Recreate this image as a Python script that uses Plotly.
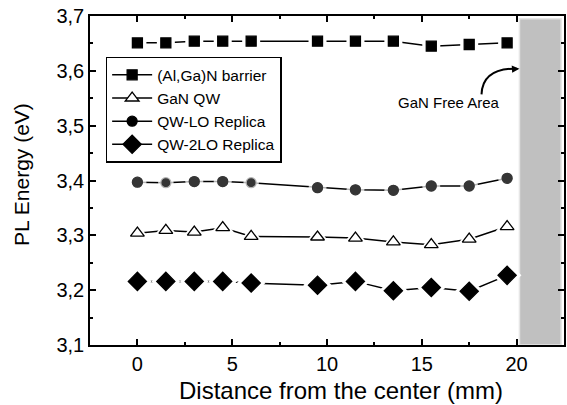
import plotly.graph_objects as go

# ---- data ----
distance_mm = [0, 1.5, 3, 4.5, 6, 9.5, 11.5, 13.5, 15.5, 17.5, 19.5]
algan_barrier = [3.651, 3.651, 3.654, 3.654, 3.654, 3.654, 3.654, 3.654, 3.645, 3.648, 3.651]
gan_qw = [3.304, 3.309, 3.306, 3.314, 3.298, 3.297, 3.295, 3.288, 3.283, 3.293, 3.316]
qw_lo = [3.397, 3.396, 3.398, 3.398, 3.396, 3.387, 3.383, 3.382, 3.390, 3.390, 3.404]
qw_2lo = [3.216, 3.216, 3.216, 3.216, 3.213, 3.209, 3.216, 3.199, 3.205, 3.198, 3.227]

series_names = ["(Al,Ga)N barrier", "GaN QW", "QW-LO Replica", "QW-2LO Replica"]
free_area_x = [20.15, 22.35]
free_area_label = "GaN Free Area"
x_title = "Distance from the center (mm)"
y_title = "PL Energy (eV)"

FONT = "Arial"

fig = go.Figure()

# gray "GaN free" region
fig.add_shape(type="rect", xref="x", yref="y",
              x0=free_area_x[0], x1=free_area_x[1], y0=3.1, y1=3.695,
              fillcolor="#c0c0c0", line=dict(color="#e6e6e6", width=1.5), layer="below")

styles = [
    dict(symbol="square", size=10, color="black", lc="black"),
    dict(symbol="triangle-up", size=12, color="white", lc="black"),
    dict(symbol="circle", size=[10, 7.5, 10, 10, 7.5, 10, 10, 10, 10, 10, 10], color="black", lc="black"),
    dict(symbol="diamond", size=14, color="black", lc="black"),
]
all_y = [algan_barrier, gan_qw, qw_lo, qw_2lo]

for name, ys, st in zip(series_names, all_y, styles):
    sz = st["size"]
    # line + markers (legend entry)
    fig.add_trace(go.Scatter(
        x=distance_mm, y=ys, name=name, mode="lines+markers",
        line=dict(color="black", width=1.5),
        marker=dict(symbol=st["symbol"], size=10 if isinstance(sz, list) else sz,
                    color=st["color"], line=dict(color=st["lc"], width=1.3)),
    ))
    # white mask to create gaps between line and markers
    mask_sz = [s + 8 for s in sz] if isinstance(sz, list) else sz + 8
    fig.add_trace(go.Scatter(
        x=distance_mm, y=ys, mode="markers", showlegend=False, hoverinfo="skip",
        marker=dict(symbol=st["symbol"], size=mask_sz, color="white", line=dict(width=0)),
    ))
    # actual markers
    fig.add_trace(go.Scatter(
        x=distance_mm, y=ys, mode="markers", showlegend=False,
        marker=dict(symbol=st["symbol"], size=sz, color=st["color"],
                    line=dict(color=st["lc"], width=1.3)),
    ))

# curved arrow pointing to the free area
fig.add_shape(type="path", xref="x", yref="y",
              path="M 18.15,3.557 Q 18.2,3.605 20.0,3.604",
              line=dict(color="black", width=2))
fig.add_annotation(x=20.15, y=3.604, ax=19.7, ay=3.603, xref="x", yref="y",
                   axref="x", ayref="y", text="", showarrow=True,
                   arrowhead=2, arrowsize=1, arrowwidth=1.5, arrowcolor="black")
fig.add_annotation(x=16.46, y=3.542, xref="x", yref="y", text=free_area_label,
                   showarrow=False, font=dict(family=FONT, size=15, color="black"))

# axis titles
fig.add_annotation(x=0.529, y=-0.137, xref="paper", yref="paper", text=x_title,
                   showarrow=False, xanchor="center", yanchor="middle",
                   font=dict(family=FONT, size=24, color="black"))
fig.add_annotation(x=-0.143, y=0.5175, xref="paper", yref="paper", text=y_title,
                   showarrow=False, xanchor="center", yanchor="middle", textangle=-90,
                   font=dict(family=FONT, size=21, color="black"))

axis_common = dict(
    showline=True, linecolor="black", linewidth=1.5, mirror="ticks",
    ticks="inside", ticklen=6, tickwidth=1.5, tickcolor="black",
    showgrid=False, zeroline=False,
    tickfont=dict(family=FONT, size=20, color="black"),
)

fig.update_xaxes(range=[-2.5, 22.5], tick0=0, dtick=5,
                 minor=dict(ticks="inside", ticklen=3, tickwidth=1.5, tickcolor="black", dtick=2.5, tick0=0),
                 **axis_common)
fig.update_yaxes(range=[3.1, 3.7], tick0=3.1, dtick=0.1, tickformat=".1f",
                 minor=dict(ticks="inside", ticklen=3, tickwidth=1.5, tickcolor="black", dtick=0.05, tick0=3.1),
                 **axis_common)

fig.update_layout(
    width=567, height=405,
    margin=dict(l=90, r=1, t=16, b=60),
    paper_bgcolor="white", plot_bgcolor="white",
    separators=", ",
    font=dict(family=FONT, color="black"),
    showlegend=True,
    legend=dict(x=0.033, y=0.876, xanchor="left", yanchor="top",
                bgcolor="white", bordercolor="black", borderwidth=1.5,
                font=dict(family=FONT, size=15.5, color="black"),
                tracegroupgap=0, itemwidth=40),
)

fig.write_html("out.html")
